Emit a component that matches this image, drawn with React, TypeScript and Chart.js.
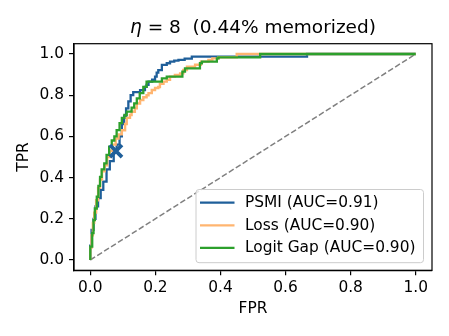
import React, { useEffect, useRef } from "react";
import { Chart, registerables } from "chart.js";

Chart.register(...registerables);

const TITLE_MATH = "η";
const TITLE_REST = " = 8  (0.44% memorized)";
const X_LABEL = "FPR";
const Y_LABEL = "TPR";
const TICKS = [0, 0.2, 0.4, 0.6, 0.8, 1.0];
const SERIES_LABELS = ["PSMI (AUC=0.91)", "Loss (AUC=0.90)", "Logit Gap (AUC=0.90)"];
const SERIES_COLORS = ["#1f5f9a", "#ffb570", "#2ca02c"];

const psmiFpr = [0, 0.004, 0.01, 0.016, 0.024, 0.032, 0.04, 0.05, 0.06, 0.072, 0.081, 0.09, 0.097, 0.104, 0.11, 0.117, 0.124, 0.132, 0.153, 0.168, 0.173, 0.179, 0.19, 0.199, 0.204, 0.209, 0.22, 0.235, 0.245, 0.258, 0.271, 0.29, 0.312, 0.666, 1.0];
const psmiTpr = [0, 0.07, 0.146, 0.2, 0.26, 0.3, 0.34, 0.38, 0.44, 0.48, 0.52, 0.56, 0.6, 0.66, 0.7, 0.736, 0.77, 0.8, 0.815, 0.825, 0.84, 0.85, 0.866, 0.875, 0.89, 0.91, 0.922, 0.947, 0.955, 0.963, 0.968, 0.971, 0.978, 0.987, 1.0];

const lossFpr = [0, 0.004, 0.008, 0.012, 0.018, 0.024, 0.03, 0.036, 0.044, 0.052, 0.06, 0.068, 0.078, 0.087, 0.097, 0.107, 0.112, 0.122, 0.127, 0.137, 0.143, 0.153, 0.163, 0.173, 0.179, 0.189, 0.199, 0.209, 0.214, 0.225, 0.235, 0.245, 0.26, 0.276, 0.286, 0.297, 0.322, 0.34, 0.363, 0.375, 0.394, 0.414, 0.45, 1.0];
const lossTpr = [0, 0.06, 0.12, 0.18, 0.23, 0.29, 0.35, 0.39, 0.43, 0.46, 0.5, 0.53, 0.56, 0.59, 0.61, 0.63, 0.66, 0.69, 0.704, 0.72, 0.736, 0.76, 0.777, 0.79, 0.8, 0.81, 0.825, 0.835, 0.84, 0.855, 0.866, 0.875, 0.89, 0.898, 0.906, 0.922, 0.938, 0.948, 0.963, 0.971, 0.979, 0.984, 0.984, 1.0];

const gapFpr = [0, 0.006, 0.01, 0.014, 0.02, 0.025, 0.03, 0.035, 0.043, 0.05, 0.058, 0.066, 0.074, 0.081, 0.09, 0.097, 0.105, 0.112, 0.127, 0.135, 0.143, 0.152, 0.163, 0.173, 0.184, 0.22, 0.235, 0.283, 0.291, 0.337, 0.343, 0.389, 0.394, 0.522, 1.0];
const gapTpr = [0, 0.065, 0.13, 0.194, 0.25, 0.307, 0.36, 0.404, 0.44, 0.469, 0.51, 0.55, 0.58, 0.6, 0.63, 0.664, 0.69, 0.704, 0.72, 0.74, 0.76, 0.785, 0.81, 0.84, 0.866, 0.866, 0.882, 0.89, 0.914, 0.93, 0.955, 0.963, 0.979, 0.984, 1.0];

const markerFpr = [0.079];
const markerTpr = [0.529];
const diagFpr = [0, 1];
const diagTpr = [0, 1];

const FONT = "'DejaVu Sans', sans-serif";

const toPts = (xs: number[], ys: number[]) => xs.map((x, i) => ({ x, y: ys[i] }));

const decorPlugin = {
  id: "decor",
  afterDraw(chart: any) {
    const { ctx, chartArea: ca } = chart;
    ctx.save();
    // spines
    ctx.strokeStyle = "#000";
    ctx.lineWidth = 1.2;
    ctx.strokeRect(ca.left, ca.top, ca.right - ca.left, ca.bottom - ca.top);

    // title
    const cx = (ca.left + ca.right) / 2;
    ctx.fillStyle = "#000";
    ctx.textBaseline = "alphabetic";
    ctx.textAlign = "left";
    ctx.font = `oblique 18.5px ${FONT}`;
    const w1 = ctx.measureText(TITLE_MATH).width;
    ctx.font = `18.5px ${FONT}`;
    const w2 = ctx.measureText(TITLE_REST).width;
    const x0 = cx - (w1 + w2) / 2;
    ctx.font = `oblique 18.5px ${FONT}`;
    ctx.fillText(TITLE_MATH, x0, 33);
    ctx.font = `18.5px ${FONT}`;
    ctx.fillText(TITLE_REST, x0 + w1, 33);

    // legend
    const lx = ca.right - 8.5 - 227.5;
    const ly = ca.bottom - 7.6 - 73.2;
    const lw = 227.5;
    const lh = 73.2;
    const r = 3;
    ctx.beginPath();
    ctx.moveTo(lx + r, ly);
    ctx.lineTo(lx + lw - r, ly);
    ctx.quadraticCurveTo(lx + lw, ly, lx + lw, ly + r);
    ctx.lineTo(lx + lw, ly + lh - r);
    ctx.quadraticCurveTo(lx + lw, ly + lh, lx + lw - r, ly + lh);
    ctx.lineTo(lx + r, ly + lh);
    ctx.quadraticCurveTo(lx, ly + lh, lx, ly + lh - r);
    ctx.lineTo(lx, ly + r);
    ctx.quadraticCurveTo(lx, ly, lx + r, ly);
    ctx.closePath();
    ctx.fillStyle = "rgba(255,255,255,0.8)";
    ctx.fill();
    ctx.strokeStyle = "#cccccc";
    ctx.lineWidth = 1;
    ctx.stroke();

    ctx.font = `15.4px ${FONT}`;
    ctx.textBaseline = "middle";
    ctx.textAlign = "left";
    SERIES_LABELS.forEach((lab, i) => {
      const y = ly + 13.2 + i * 22.6;
      ctx.strokeStyle = SERIES_COLORS[i];
      ctx.lineWidth = 2.2;
      ctx.beginPath();
      ctx.moveTo(lx + 4, y);
      ctx.lineTo(lx + 38.5, y);
      ctx.stroke();
      ctx.fillStyle = "#000";
      ctx.fillText(lab, lx + 49, y + 0.5);
    });
    ctx.restore();
  },
};

export default function App() {
  const ref = useRef<HTMLCanvasElement>(null);
  useEffect(() => {
    if (!ref.current) return;
    const tickFont = { family: FONT, size: 15.4 };
    const chart = new Chart(ref.current, {
      type: "line",
      data: {
        datasets: [
          {
            label: SERIES_LABELS[0],
            data: toPts(psmiFpr, psmiTpr),
            borderColor: SERIES_COLORS[0],
            borderWidth: 2.3,
            pointRadius: 0,
            stepped: "after",
            fill: false,
            order: 2,
          },
          {
            label: SERIES_LABELS[1],
            data: toPts(lossFpr, lossTpr),
            borderColor: SERIES_COLORS[1],
            borderWidth: 2.4,
            pointRadius: 0,
            stepped: "after",
            fill: false,
            order: 1,
          },
          {
            label: SERIES_LABELS[2],
            data: toPts(gapFpr, gapTpr),
            borderColor: SERIES_COLORS[2],
            borderWidth: 2.3,
            pointRadius: 0,
            stepped: "after",
            fill: false,
            order: 0,
          },
          {
            label: "random",
            data: toPts(diagFpr, diagTpr),
            borderColor: "#808080",
            borderWidth: 1.5,
            borderDash: [5.7, 2.5],
            pointRadius: 0,
            fill: false,
            order: 3,
          },
          {
            label: "marker",
            data: toPts(markerFpr, markerTpr),
            borderColor: SERIES_COLORS[0],
            backgroundColor: SERIES_COLORS[0],
            showLine: false,
            pointStyle: "crossRot",
            pointRadius: 8.5,
            pointBorderWidth: 3.8,
            order: -1,
          } as any,
        ],
      },
      options: {
        responsive: false,
        animation: false,
        devicePixelRatio: 1,
        layout: { padding: { top: 43.7, right: 17, bottom: 0, left: 0 } },
        plugins: {
          legend: { display: false },
          tooltip: { enabled: false },
          title: { display: false },
        },
        scales: {
          x: {
            type: "linear",
            min: -0.05,
            max: 1.05,
            afterBuildTicks: (s: any) => {
              s.ticks = TICKS.map((v) => ({ value: v }));
            },
            afterFit: (s: any) => {
              s.height = 65.7;
            },
            ticks: {
              font: tickFont,
              color: "#000",
              padding: 3,
              maxRotation: 0,
              callback: (v: any) => Number(v).toFixed(1),
            },
            grid: {
              display: true,
              drawOnChartArea: false,
              drawTicks: true,
              tickLength: 5,
              color: "#000",
              lineWidth: 1.2,
            },
            border: { display: true, color: "#000", width: 1.2 },
            title: {
              display: true,
              text: X_LABEL,
              font: tickFont,
              color: "#000",
              padding: { top: 0, bottom: 17.8 },
            },
          },
          y: {
            type: "linear",
            min: -0.05,
            max: 1.05,
            afterBuildTicks: (s: any) => {
              s.ticks = TICKS.map((v) => ({ value: v }));
            },
            afterFit: (s: any) => {
              s.width = 74;
            },
            ticks: {
              font: tickFont,
              color: "#000",
              padding: 5,
              callback: (v: any) => Number(v).toFixed(1),
            },
            grid: {
              display: true,
              drawOnChartArea: false,
              drawTicks: true,
              tickLength: 5,
              color: "#000",
              lineWidth: 1.2,
            },
            border: { display: true, color: "#000", width: 1.2 },
            title: {
              display: true,
              text: Y_LABEL,
              font: tickFont,
              color: "#000",
              padding: { top: 14.8, bottom: 0 },
            },
          },
        },
      },
      plugins: [decorPlugin],
    } as any);
    return () => chart.destroy();
  }, []);

  return (
    <div style={{ position: "fixed", left: 0, top: 0, width: 449, height: 336, background: "#fff" }}>
      <canvas ref={ref} width={449} height={336} style={{ display: "block", width: 449, height: 336 }} />
    </div>
  );
}
